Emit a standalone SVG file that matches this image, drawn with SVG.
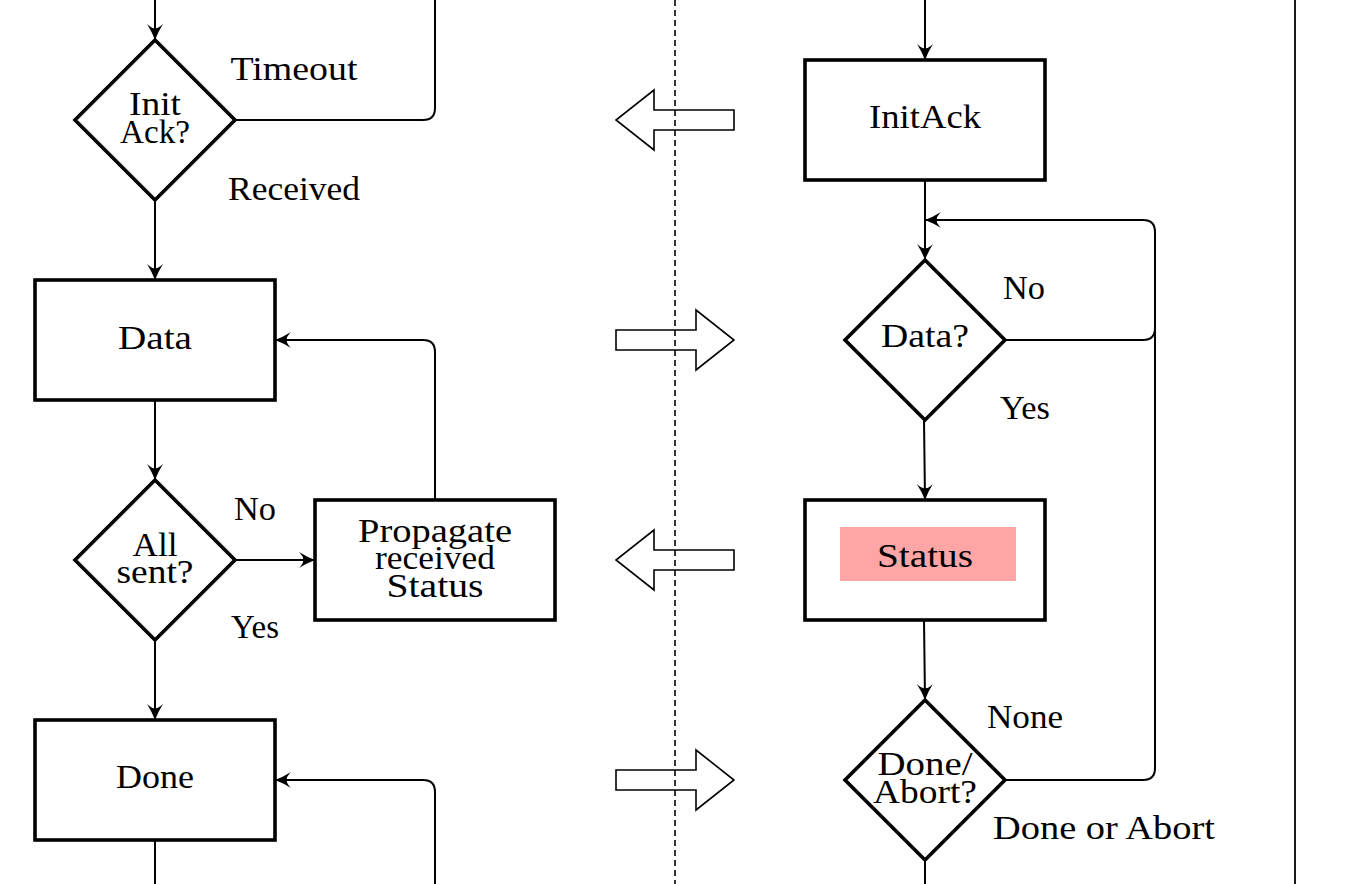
<svg xmlns="http://www.w3.org/2000/svg" width="1352" height="884" viewBox="0 0 1352 884">
<style>
text{font-family:"Liberation Serif","DejaVu Serif",serif;font-size:34px;fill:#000;text-anchor:middle}
.box{fill:#fff;stroke:#000;stroke-width:3.6}
.con{fill:none;stroke:#000;stroke-width:2}
.arr{marker-end:url(#ah)}
.blk{fill:none;stroke:#000;stroke-width:1.6;stroke-linejoin:miter}
</style>
<defs>
<marker id="ah" markerUnits="userSpaceOnUse" markerWidth="18" markerHeight="18" refX="16" refY="8" orient="auto" overflow="visible">
<path d="M16,8 Q8,5 0,0 Q5,5 4,8 Q5,11 0,16 Q8,11 16,8 Z" fill="#000"/>
</marker>
</defs>
<rect width="1352" height="884" fill="#fff"/>
<g id="lanes">
<line x1="675" y1="0" x2="675" y2="884" stroke="#000" stroke-width="1.6" stroke-dasharray="6,4"/>
<line x1="1295" y1="0" x2="1295" y2="884" stroke="#000" stroke-width="1.8"/>
</g>
<g id="connectors">
<path class="con arr" d="M155,0 V40"/>
<path class="con" d="M235,120 H423 Q435,120 435,108 V0"/>
<path class="con arr" d="M155,200 V280"/>
<path class="con arr" d="M155,400 V480"/>
<path class="con arr" d="M235,560 H315"/>
<path class="con arr" d="M435,500 V352 Q435,340 423,340 H275"/>
<path class="con arr" d="M155,640 V720"/>
<path class="con" d="M155,840 V884"/>
<path class="con arr" d="M435,884 V792 Q435,780 423,780 H275"/>
<path class="con arr" d="M925,0 V60"/>
<path class="con arr" d="M925,180 V260"/>
<path class="con arr" d="M1005,340 H1143 Q1155,340 1155,328 V232 Q1155,220 1143,220 H925"/>
<path class="con" d="M1005,780 H1143 Q1155,780 1155,768 V330"/>
<path class="con arr" d="M924,420 L925,500"/>
<path class="con arr" d="M924,620 L925,700"/>
<path class="con" d="M925,860 V884"/>
</g>
<g id="messages">
<polygon class="blk" points="734,110 654,110 654,90 616,120 654,150 654,130 734,130"/>
<polygon class="blk" points="616,330 696,330 696,310 734,340 696,370 696,350 616,350"/>
<polygon class="blk" points="734,550 654,550 654,530 616,560 654,590 654,570 734,570"/>
<polygon class="blk" points="616,770 696,770 696,750 734,780 696,810 696,790 616,790"/>
</g>
<g id="initack-q">
<polygon class="box" points="155,40 235,120 155,200 75,120"/>
<text x="155" y="115" textLength="52" lengthAdjust="spacingAndGlyphs">Init</text>
<text x="155" y="143" textLength="70" lengthAdjust="spacingAndGlyphs">Ack?</text>
</g>
<g id="data">
<rect class="box" x="35" y="280" width="240" height="120"/>
<text x="155" y="349" textLength="74" lengthAdjust="spacingAndGlyphs">Data</text>
</g>
<g id="allsent-q">
<polygon class="box" points="155,480 235,560 155,640 75,560"/>
<text x="155" y="556" textLength="45" lengthAdjust="spacingAndGlyphs">All</text>
<text x="155" y="583" textLength="77" lengthAdjust="spacingAndGlyphs">sent?</text>
</g>
<g id="propagate">
<rect class="box" x="315" y="500" width="240" height="120"/>
<text x="435" y="542" textLength="154" lengthAdjust="spacingAndGlyphs">Propagate</text>
<text x="435" y="569" textLength="120" lengthAdjust="spacingAndGlyphs">received</text>
<text x="435" y="597" textLength="97" lengthAdjust="spacingAndGlyphs">Status</text>
</g>
<g id="done">
<rect class="box" x="35" y="720" width="240" height="120"/>
<text x="155" y="788" textLength="78" lengthAdjust="spacingAndGlyphs">Done</text>
</g>
<g id="initack">
<rect class="box" x="805" y="60" width="240" height="120"/>
<text x="925" y="128" textLength="112" lengthAdjust="spacingAndGlyphs">InitAck</text>
</g>
<g id="data-q">
<polygon class="box" points="925,260 1005,340 925,420 845,340"/>
<text x="925" y="347" textLength="88" lengthAdjust="spacingAndGlyphs">Data?</text>
</g>
<g id="status">
<rect class="box" x="805" y="500" width="240" height="120"/>
<rect x="840" y="527" width="176" height="54" fill="#FFA5A5"/>
<text x="925" y="567" textLength="96" lengthAdjust="spacingAndGlyphs">Status</text>
</g>
<g id="doneabort-q">
<polygon class="box" points="925,700 1005,780 925,860 845,780"/>
<text x="925" y="775" textLength="95" lengthAdjust="spacingAndGlyphs">Done/</text>
<text x="925" y="803" textLength="104" lengthAdjust="spacingAndGlyphs">Abort?</text>
</g>
<g id="labels">
<text x="294" y="80" textLength="127" lengthAdjust="spacingAndGlyphs">Timeout</text>
<text x="294" y="200" textLength="132" lengthAdjust="spacingAndGlyphs">Received</text>
<text x="255" y="520" textLength="42" lengthAdjust="spacingAndGlyphs">No</text>
<text x="255" y="638" textLength="48" lengthAdjust="spacingAndGlyphs">Yes</text>
<text x="1024" y="299" textLength="42" lengthAdjust="spacingAndGlyphs">No</text>
<text x="1025" y="419" textLength="50" lengthAdjust="spacingAndGlyphs">Yes</text>
<text x="1025" y="728" textLength="76" lengthAdjust="spacingAndGlyphs">None</text>
<text x="1104" y="839" textLength="222" lengthAdjust="spacingAndGlyphs">Done or Abort</text>
</g>
</svg>
